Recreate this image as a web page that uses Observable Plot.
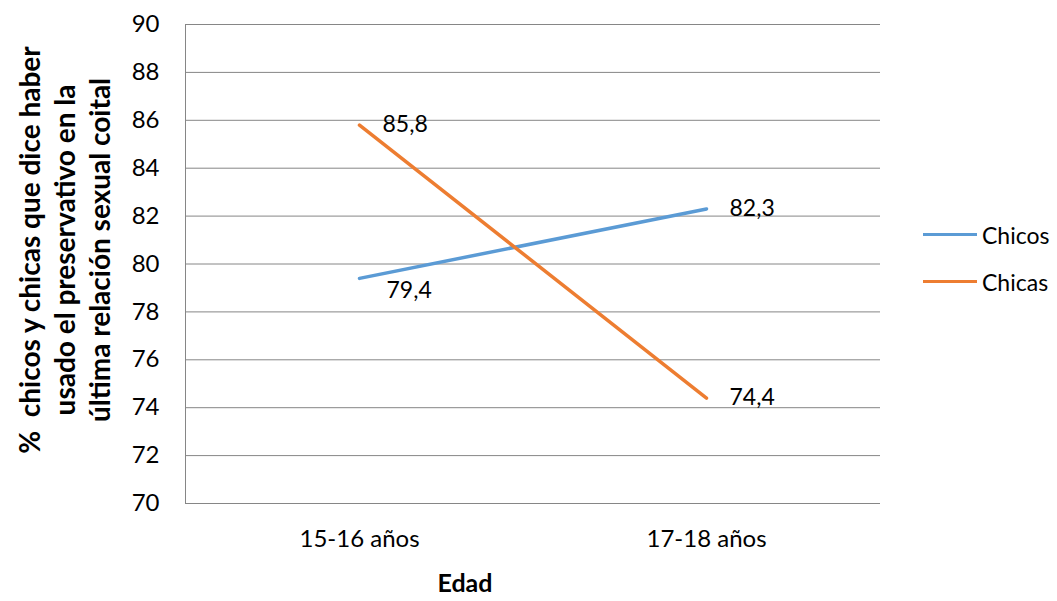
<!DOCTYPE html>
<html><head><meta charset="utf-8">
<script src="https://cdn.jsdelivr.net/npm/d3@7"></script>
<script src="https://cdn.jsdelivr.net/npm/@observablehq/plot@0.6"></script>
<style>
body{margin:0;background:#fff;font-family:Lato,"Open Sans",sans-serif;}
#wrap{position:relative;width:1057px;height:601px;}
#legend{position:absolute;left:923px;top:211px;font-size:23px;color:#000;}
#legend div{display:flex;align-items:center;height:47px;}
#legend span.sw{display:inline-block;width:54px;height:3px;margin-right:5px;}
</style></head>
<body><div id="wrap"><div id="legend"></div></div>
<script>
const categories = ["15-16 años", "17-18 años"];
const chicos = [79.4, 82.3];
const chicas = [85.8, 74.4];
const seriesNames = ["Chicos", "Chicas"];
const colors = ["#5B9BD5", "#ED7D31"];
const yTicks = [70,72,74,76,78,80,82,84,86,88,90];
const yTitle = "%  chicos y chicas que dice haber\nusado el preservativo en la\núltima relación sexual coital";
const xTitle = "Edad";

const data = [];
categories.forEach((c,i)=>{
  data.push({edad:c, serie:"Chicos", v:chicos[i]});
  data.push({edad:c, serie:"Chicas", v:chicas[i]});
});
const fmt = v => v.toFixed(1).replace(".", ",");
const isLow = d => d.serie==="Chicos" && d.edad===categories[0];

const chart = Plot.plot({
  width:1057, height:601,
  marginLeft:185, marginRight:177, marginTop:24, marginBottom:98,
  style:{fontFamily:"Lato, 'Open Sans', sans-serif", fontSize:"22px", color:"#000", background:"#fff"},
  x:{type:"point", domain:categories, padding:0.5, label:null},
  y:{domain:[70,90], ticks:yTicks, label:null},
  color:{domain:seriesNames, range:colors},
  marks:[
    Plot.gridY(yTicks, {stroke:"#868686", strokeOpacity:1, strokeWidth:1}),
    Plot.frame({anchor:"left", stroke:"#868686"}),
    Plot.axisY({ticks:yTicks, tickSize:0, tickPadding:26, fontSize:24, label:null}),
    Plot.axisX({tickSize:0, tickPadding:26, fontSize:24, label:null}),
    Plot.line(data, {x:"edad", y:"v", z:"serie", stroke:"serie", strokeWidth:3.5}),
    Plot.text(data, {x:"edad", y:"v", text:d=>fmt(d.v), textAnchor:"start", dx:23, fill:"#000", fontSize:23,
      filter:d=>!isLow(d)}),
    Plot.text(data, {x:"edad", y:"v", text:d=>fmt(d.v), textAnchor:"start", dx:27, dy:12, fill:"#000", fontSize:23,
      filter:isLow}),
    Plot.text([yTitle], {frameAnchor:"left", text:d=>d, rotate:-90, dx:-122, dy:-14, fontWeight:"bold", fontSize:28, lineHeight:1.25, textAnchor:"middle", lineAnchor:"middle", fill:"#000"}),
    Plot.text([xTitle], {frameAnchor:"bottom", text:d=>d, dx:-68, dy:80, fontWeight:"bold", fontSize:25, lineAnchor:"middle", fill:"#000"})
  ]
});
document.getElementById("wrap").prepend(chart);
const lg = document.getElementById("legend");
seriesNames.forEach((s,i)=>{
  const d = document.createElement("div");
  d.innerHTML = `<span class="sw" style="background:${colors[i]}"></span>${s}`;
  lg.appendChild(d);
});
</script></body></html>
